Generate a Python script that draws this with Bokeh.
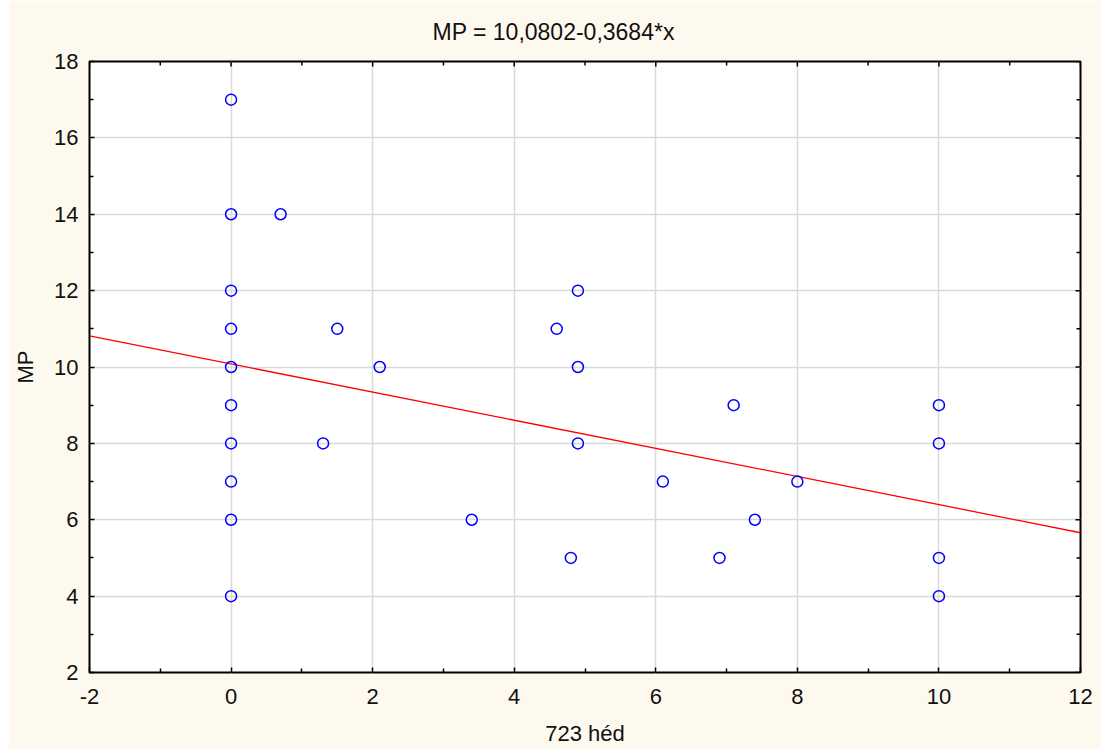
import math
from bokeh.plotting import figure
from bokeh.models import Range1d, FixedTicker, LinearAxis, CustomJSTickFormatter
from bokeh.embed import file_html
from bokeh.resources import INLINE

# Data
x_vals = [0, 0, 0, 0, 0, 0, 0, 0, 0, 0,
          0.7, 1.5, 2.1, 1.3, 3.4, 4.6, 4.9, 4.9, 4.9, 4.8,
          6.1, 7.1, 6.9, 7.4, 8.0, 10, 10, 10, 10]
y_vals = [17, 14, 12, 11, 10, 9, 8, 7, 6, 4,
          14, 11, 10, 8, 6, 11, 12, 10, 8, 5,
          7, 9, 5, 6, 7, 9, 8, 5, 4]

# Regression: MP = 10,0802 - 0,3684*x
intercept = 10.0802
slope = -0.3684
x_limits = [-2, 12]
y_limits = [2, 18]
x_major = [-2, 0, 2, 4, 6, 8, 10, 12]
x_minor = [-1, 1, 3, 5, 7, 9, 11]
y_major = [2, 4, 6, 8, 10, 12, 14, 16, 18]
y_minor = [3, 5, 7, 9, 11, 13, 15, 17]

line_x = x_limits
line_y = [intercept + slope * v for v in line_x]

title_text = "MP = 10,0802-0,3684*x"
x_label = "723 héd"
y_label = "MP"

FONT = "Liberation Sans"
FS = "22px"
CREAM = "#FEF9EE"
TXT = "#111111"

p = figure(width=1093, height=749,
           min_border_left=81, min_border_right=21,
           min_border_top=60, min_border_bottom=77,
           x_range=Range1d(*x_limits), y_range=Range1d(*y_limits),
           output_backend="svg", toolbar_location=None,
           background_fill_color="white", border_fill_color=CREAM,
           x_axis_location=None, y_axis_location=None)
p.margin = (0, 0, 0, 8)

p.title.text = title_text
p.title.text_font = FONT
p.title.text_font_size = "23px"
p.title.text_font_style = "normal"
p.title.text_color = TXT
p.title.align = "left"
p.title.offset = 343
p.title.standoff = 33

p.outline_line_color = "black"
p.outline_line_width = 2
p.outline_line_alpha = 1.0

fmt = CustomJSTickFormatter(code="return String(Math.round(tick));")


def make_axis(loc, major, minor, label_text):
    ax = LinearAxis(ticker=FixedTicker(ticks=major, minor_ticks=minor),
                    formatter=fmt)
    ax.axis_line_color = None
    ax.major_tick_in = 5
    ax.major_tick_out = 0
    ax.minor_tick_in = 4
    ax.minor_tick_out = 0
    ax.major_tick_line_color = "black"
    ax.minor_tick_line_color = "black"
    ax.major_tick_line_width = 1.5
    ax.minor_tick_line_width = 1.5
    ax.major_label_text_font = FONT
    ax.major_label_text_font_size = FS
    ax.major_label_text_color = TXT
    ax.axis_label = label_text
    ax.axis_label_text_font = FONT
    ax.axis_label_text_font_size = FS
    ax.axis_label_text_font_style = "normal"
    ax.axis_label_text_color = TXT
    p.add_layout(ax, loc)
    return ax


xb = make_axis("below", x_major, x_minor, x_label)
xb.major_label_standoff = 16
xb.axis_label_standoff = 14
yl = make_axis("left", y_major, y_minor, y_label)
yl.major_label_standoff = 11
yl.axis_label_standoff = 13

p.xgrid.ticker = xb.ticker
p.ygrid.ticker = yl.ticker
p.xgrid.grid_line_color = "#D9D9D9"
p.ygrid.grid_line_color = "#D9D9D9"
p.xgrid.grid_line_width = 1.5
p.ygrid.grid_line_width = 1.5

p.line(line_x, line_y, line_color="#FF0000", line_width=1.3)
p.scatter(x_vals, y_vals, marker="circle", size=11, fill_color=None,
          line_color="#0000FF", line_width=1.5)

# inward ticks on the top and right edges of the frame (clipped to the frame)
top = y_limits[1]
right = x_limits[1]
p.scatter(x_major, [top] * len(x_major), marker="dash", angle=math.pi / 2,
          size=10, line_color="black", line_width=1.5)
p.scatter(x_minor, [top] * len(x_minor), marker="dash", angle=math.pi / 2,
          size=8, line_color="black", line_width=1.5)
p.scatter([right] * len(y_major), y_major, marker="dash",
          size=10, line_color="black", line_width=1.5)
p.scatter([right] * len(y_minor), y_minor, marker="dash",
          size=8, line_color="black", line_width=1.5)

open("out.html", "w").write(file_html(p, INLINE))
